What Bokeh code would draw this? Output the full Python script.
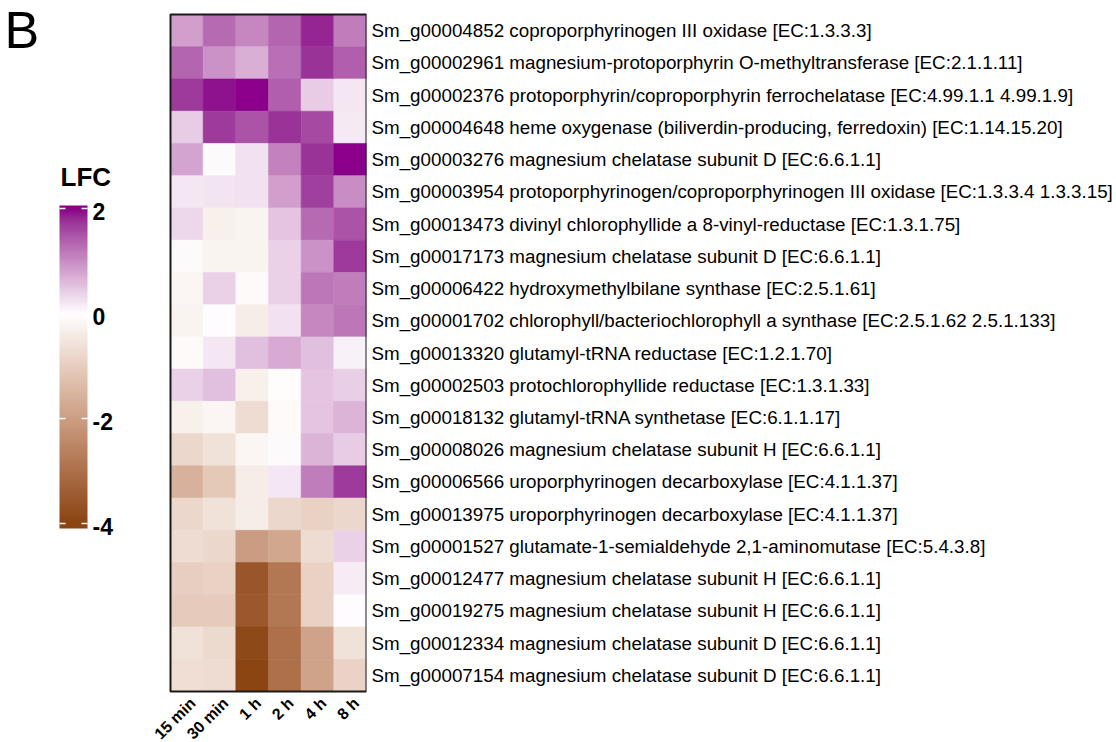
import math
import numpy as np
from bokeh.plotting import figure
from bokeh.layouts import row
from bokeh.models import Range1d, LinearColorMapper, ColumnDataSource, FixedTicker
from bokeh.core.properties import value
from bokeh.transform import transform
from bokeh.embed import file_html
from bokeh.resources import INLINE

# ---- data -------------------------------------------------------------
time_points = ["15 min", "30 min", "1 h", "2 h", "4 h", "8 h"]

genes = [
    "Sm_g00004852 coproporphyrinogen III oxidase [EC:1.3.3.3]",
    "Sm_g00002961 magnesium-protoporphyrin O-methyltransferase [EC:2.1.1.11]",
    "Sm_g00002376 protoporphyrin/coproporphyrin ferrochelatase [EC:4.99.1.1 4.99.1.9]",
    "Sm_g00004648 heme oxygenase (biliverdin-producing, ferredoxin) [EC:1.14.15.20]",
    "Sm_g00003276 magnesium chelatase subunit D [EC:6.6.1.1]",
    "Sm_g00003954 protoporphyrinogen/coproporphyrinogen III oxidase [EC:1.3.3.4 1.3.3.15]",
    "Sm_g00013473 divinyl chlorophyllide a 8-vinyl-reductase [EC:1.3.1.75]",
    "Sm_g00017173 magnesium chelatase subunit D [EC:6.6.1.1]",
    "Sm_g00006422 hydroxymethylbilane synthase [EC:2.5.1.61]",
    "Sm_g00001702 chlorophyll/bacteriochlorophyll a synthase [EC:2.5.1.62 2.5.1.133]",
    "Sm_g00013320 glutamyl-tRNA reductase [EC:1.2.1.70]",
    "Sm_g00002503 protochlorophyllide reductase [EC:1.3.1.33]",
    "Sm_g00018132 glutamyl-tRNA synthetase [EC:6.1.1.17]",
    "Sm_g00008026 magnesium chelatase subunit H [EC:6.6.1.1]",
    "Sm_g00006566 uroporphyrinogen decarboxylase [EC:4.1.1.37]",
    "Sm_g00013975 uroporphyrinogen decarboxylase [EC:4.1.1.37]",
    "Sm_g00001527 glutamate-1-semialdehyde 2,1-aminomutase [EC:5.4.3.8]",
    "Sm_g00012477 magnesium chelatase subunit H [EC:6.6.1.1]",
    "Sm_g00019275 magnesium chelatase subunit H [EC:6.6.1.1]",
    "Sm_g00012334 magnesium chelatase subunit D [EC:6.6.1.1]",
    "Sm_g00007154 magnesium chelatase subunit D [EC:6.6.1.1]",
]

# log2 fold change per time point, one value per gene (same order as genes)
lfc_15min = [0.85, 1.35, 1.70, 0.45, 0.80, 0.20, 0.35, 0.05, -0.20, -0.22, -0.08,
             0.40, -0.30, -0.80, -1.60, -0.80, -0.70, -1.00, -1.05, -0.60, -0.65]
lfc_30min = [1.30, 0.95, 1.95, 1.70, 0.05, 0.22, -0.30, -0.22, 0.40, 0.03, 0.20,
             0.55, -0.20, -0.60, -1.10, -0.60, -0.80, -0.95, -1.05, -0.75, -0.70]
lfc_1h = [1.05, 0.70, 2.00, 1.50, 0.25, 0.25, -0.22, -0.22, -0.10, -0.35, 0.55,
          -0.30, -0.70, -0.20, -0.35, -0.35, -2.05, -3.60, -3.55, -3.90, -4.00]
lfc_2h = [1.35, 1.25, 1.40, 1.75, 1.10, 0.85, 0.50, 0.40, 0.40, 0.25, 0.75,
          -0.05, -0.10, 0.05, 0.20, -0.80, -1.80, -2.85, -2.85, -3.00, -3.00]
lfc_4h = [1.85, 1.75, 0.45, 1.60, 1.75, 1.65, 1.30, 0.95, 1.20, 1.05, 0.55,
          0.50, 0.50, 0.65, 1.15, -0.95, -0.70, -0.95, -0.95, -1.90, -1.90]
lfc_8h = [1.15, 1.40, 0.20, 0.18, 2.00, 1.00, 1.50, 1.70, 1.15, 1.20, 0.12,
          0.42, 0.65, 0.45, 1.70, -0.80, 0.40, 0.15, 0.03, -0.60, -0.90]

legend_ticks = [-4, -2, 0, 2]
lfc_low, lfc_mid, lfc_high = -4.0, 0.0, 2.0

# ---- diverging palette (brown - white - purple), interpolated in Lab --------
def _srgb_to_lab(rgb):
    c = np.asarray(rgb, dtype=float) / 255.0
    c = np.where(c <= 0.04045, c / 12.92, ((c + 0.055) / 1.055) ** 2.4)
    m = np.array([[0.4124564, 0.3575761, 0.1804375],
                  [0.2126729, 0.7151522, 0.0721750],
                  [0.0193339, 0.1191920, 0.9503041]])
    xyz = m @ c / np.array([0.95047, 1.0, 1.08883])
    f = np.where(xyz > 216 / 24389, np.cbrt(xyz), (24389 / 27 * xyz + 16) / 116)
    return np.array([116 * f[1] - 16, 500 * (f[0] - f[1]), 200 * (f[1] - f[2])])


def _lab_to_hex(lab):
    L, a, b = lab
    fy = (L + 16) / 116
    f = np.array([fy + a / 500, fy, fy - b / 200])
    xyz = np.where(f ** 3 > 216 / 24389, f ** 3, (116 * f - 16) / (24389 / 27))
    xyz = xyz * np.array([0.95047, 1.0, 1.08883])
    m = np.array([[3.2404542, -1.5371385, -0.4985314],
                  [-0.9692660, 1.8760108, 0.0415560],
                  [0.0556434, -0.2040259, 1.0572252]])
    c = np.clip(m @ xyz, 0, 1)
    c = np.where(c <= 0.0031308, 12.92 * c, 1.055 * c ** (1 / 2.4) - 0.055)
    r, g, bl = (np.clip(np.round(c * 255), 0, 255)).astype(int)
    return "#%02x%02x%02x" % (r, g, bl)


lab_low = _srgb_to_lab((139, 69, 19))     # saddle brown
lab_mid = _srgb_to_lab((255, 255, 255))   # white
lab_high = _srgb_to_lab((139, 0, 139))    # dark magenta

palette = []
for v in np.linspace(lfc_low, lfc_high, 256):
    if v < lfc_mid:
        t = (lfc_mid - v) / (lfc_mid - lfc_low)
        lab = lab_mid + (lab_low - lab_mid) * t
    else:
        t = (v - lfc_mid) / (lfc_high - lfc_mid)
        lab = lab_mid + (lab_high - lab_mid) * t
    palette.append(_lab_to_hex(lab))

mapper = LinearColorMapper(palette=palette, low=lfc_low, high=lfc_high)

# ---- page geometry ----------------------------------------------------
PAGE_H = 742
CELL_TOP, CELL_BOTTOM = 14, 691          # pixel rows of the tile block
CELL_LEFT, CELL_RIGHT = 170, 366         # pixel columns of the tile block
LEG_W, LABEL_W = 120, 750

n_genes, n_times = len(genes), len(time_points)
px_per_row = (CELL_BOTTOM - CELL_TOP) / n_genes
px_per_col = (CELL_RIGHT - CELL_LEFT) / n_times
heat_frame_w = CELL_RIGHT - LEG_W

# ---- heatmap ------------------------------------------------------------
row_pos = [n_genes - 1 - i for i in range(n_genes)]   # first gene on top
col_pos = list(range(n_times))

columns = [lfc_15min, lfc_30min, lfc_1h, lfc_2h, lfc_4h, lfc_8h]
xs, ys, vals = [], [], []
for cx, col in zip(col_pos, columns):
    for ry, v in zip(row_pos, col):
        xs.append(cx)
        ys.append(ry)
        vals.append(v)
src = ColumnDataSource(dict(x=xs, y=ys, lfc=vals))

y_top = n_genes - 0.5 + CELL_TOP / px_per_row
y_bot = -0.5 - (PAGE_H - CELL_BOTTOM) / px_per_row
x_left = -0.5 - (CELL_LEFT - LEG_W) / px_per_col

heat = figure(x_range=Range1d(x_left, n_times - 0.5), y_range=Range1d(y_bot, y_top),
              x_axis_location=None, y_axis_location="right",
              frame_width=heat_frame_w, frame_height=PAGE_H,
              min_border_left=0, min_border_right=LABEL_W,
              min_border_top=0, min_border_bottom=0,
              toolbar_location=None, output_backend="svg")
heat.rect(x="x", y="y", width=1, height=1, source=src,
          fill_color=transform("lfc", mapper),
          line_color=transform("lfc", mapper), line_width=0.6)
# frame around the tile block
heat.rect(x=[(n_times - 1) / 2], y=[(n_genes - 1) / 2], width=n_times, height=n_genes,
          fill_color=None, line_color="#1a1a1a", line_width=2)

heat.grid.visible = False
heat.outline_line_color = None
heat.border_fill_color = "white"

# time-point labels under the tiles, rotated 45 degrees
heat.text(x=col_pos, y=[-0.5 - 3 / px_per_row] * n_times, text=time_points,
          angle=math.pi / 4, text_align="right", text_baseline="top",
          text_font=value("Liberation Sans"), text_font_style="bold",
          text_font_size="16px", text_color="black")

ya = heat.yaxis[0]
ya.ticker = FixedTicker(ticks=row_pos)
ya.major_label_overrides = {p: g for p, g in zip(row_pos, genes)}
ya.axis_line_color = None
ya.major_tick_line_color = None
ya.minor_tick_line_color = None
ya.major_tick_in = 0
ya.major_tick_out = 0
ya.major_label_standoff = 5
ya.major_label_text_font = "Liberation Sans"
ya.major_label_text_font_size = "18.8px"
ya.major_label_text_color = "black"

# ---- colour legend ------------------------------------------------------
# x: one unit = bar width (28 px); y: LFC units at 52.5 px per unit
BAR_W, PX_PER_UNIT = 28.0, 52.5
bar_left_px = 59
tick_top_px = 208
x_lo = -bar_left_px / BAR_W
x_hi = x_lo + LEG_W / BAR_W
y_hi = lfc_high + tick_top_px / PX_PER_UNIT
y_lo = y_hi - PAGE_H / PX_PER_UNIT
bar_lo, bar_hi = lfc_low - 5 / PX_PER_UNIT, lfc_high + 3 / PX_PER_UNIT

leg = figure(x_range=Range1d(x_lo, x_hi), y_range=Range1d(y_lo, y_hi),
             x_axis_type=None, y_axis_type=None,
             frame_width=LEG_W, frame_height=PAGE_H,
             min_border_left=0, min_border_right=0,
             min_border_top=0, min_border_bottom=0,
             toolbar_location=None, output_backend="svg")
leg.grid.visible = False
leg.outline_line_color = None
leg.border_fill_color = "white"

ramp = np.linspace(bar_lo, bar_hi, 300).reshape(300, 1)
leg.image(image=[ramp], x=0, y=bar_lo, dw=1, dh=bar_hi - bar_lo,
          color_mapper=mapper)

n_ticks = len(legend_ticks)
tick_len = 6 / BAR_W
leg.segment(x0=[0] * n_ticks, x1=[tick_len] * n_ticks,
            y0=legend_ticks, y1=legend_ticks, line_color="white", line_width=1.5)
leg.segment(x0=[1 - tick_len] * n_ticks, x1=[1] * n_ticks,
            y0=legend_ticks, y1=legend_ticks, line_color="white", line_width=1.5)
leg.text(x=[1 + 5 / BAR_W] * n_ticks, y=legend_ticks,
         text=[str(t) for t in legend_ticks], y_offset=3,
         text_align="left", text_baseline="middle",
         text_font=value("Liberation Sans"), text_font_style="bold",
         text_font_size="23px", text_color="black")

leg.text(x=[1 / BAR_W], y=[y_hi - 176.5 / PX_PER_UNIT], text=["LFC"],
         text_align="left", text_baseline="middle",
         text_font=value("Liberation Sans"), text_font_style="bold",
         text_font_size="26px", text_color="black")
leg.text(x=[(4 - bar_left_px) / BAR_W], y=[y_hi - 29 / PX_PER_UNIT],
         text=["B"], text_align="left", text_baseline="middle",
         text_font=value("Liberation Sans"), text_font_size="52px",
         text_color="black")

layout = row(leg, heat)
open("out.html", "w").write(file_html(layout, INLINE))
